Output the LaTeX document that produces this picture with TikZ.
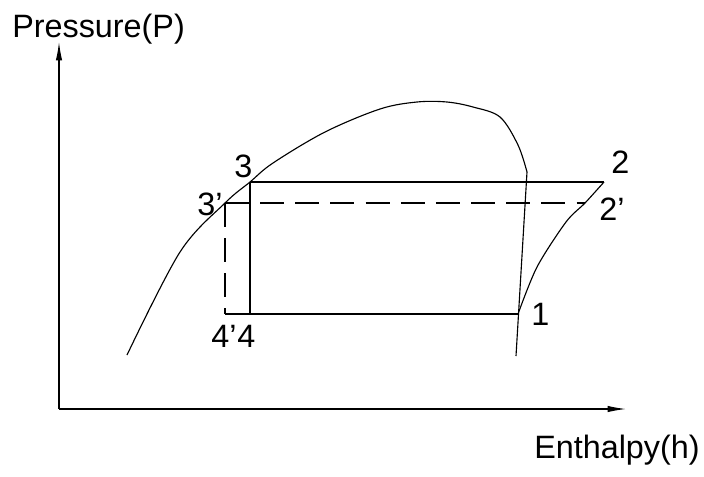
\documentclass[tikz,border=0pt]{standalone}
\usepackage{fontspec}
\setmainfont{Liberation Sans}
\usetikzlibrary{arrows.meta}

\begin{document}
\begin{tikzpicture}[
  x=0.025cm,y=-0.025cm,
  font=\fontsize{23}{27}\selectfont,
  line/.style={black,line width=0.8pt,line join=round},
  thick line/.style={black,line width=1.5pt},
  dash line/.style={line,dash pattern=on 17pt off 8pt},
  axis/.style={line,-{Latex[length=13pt,width=4.5pt]}},
  lbl/.style={inner sep=0pt,anchor=base west}
]
\useasboundingbox (0,0) rectangle (704,476);
% axes
\coordinate (o)    at (59,409);
\coordinate (ytip) at (59,42);
\coordinate (xtip) at (626,409);
\draw[axis] (o)--(ytip); \draw[axis] (o)--(xtip);
\node[lbl] (pl) at (12,37)   {Pressure(P)};
\node[lbl] (hl) at (534,458) {Enthalpy(h)};
% cycle points
\coordinate (p3)  at (250,182); \coordinate (p2)  at (604,182);
\coordinate (p3d) at (225,203); \coordinate (p2d) at (585,203);
\coordinate (p4)  at (250,314); \coordinate (p4d) at (225,314);
\coordinate (p1)  at (518,314);
% saturation dome
\draw[line] plot[smooth,tension=0.55] coordinates {(127,355) (180,252) (p3d) (p3) (273,163)
  (325,132) (380,109) (417,102) (447,102) (473,107) (500,117) (518,145) (527,172)} -- (516,356);
% cycle
\draw[line] (p3)--(p2);
\draw[line] plot[smooth,tension=0.5] coordinates {(p1) (537,267) (566,222) (p2d) (p2)};
\draw[thick line] (p3)--(p4);
\draw[line] (p4d)--(p1);
\draw[dash line] (p3d)--(p2d);
\draw[dash line] (p3d)--(p4d);
% labels
\node[lbl] (l3)  at (234,177) {3};
\node[lbl] (l3d) at (197,215) {3'};
\node[lbl] (l4d) at (211,347) {4'};
\node[lbl] (l4)  at (237,347) {4};
\node[lbl] (l2)  at (611,173) {2};
\node[lbl] (l2d) at (599,220) {2'};
\node[lbl] (l1)  at (531,325) {1};
\end{tikzpicture}
\end{document}
